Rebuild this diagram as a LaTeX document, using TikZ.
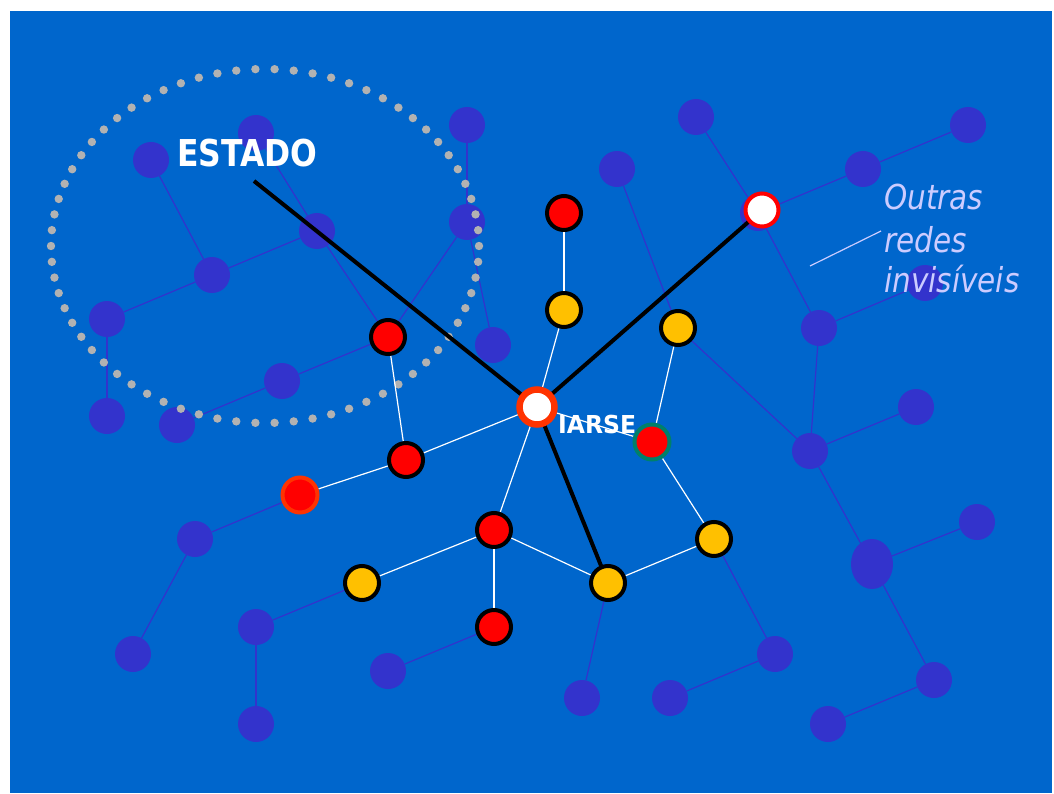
\documentclass[tikz,border=0pt]{standalone}
\usepackage{fontspec}
\setmainfont{DejaVu Sans}
\usepackage{graphicx}
\usetikzlibrary{shapes.geometric}
\definecolor{bgblue}{HTML}{0066CC}
\definecolor{nodeblue}{HTML}{3333CC}
\definecolor{nyellow}{HTML}{FFC000}
\definecolor{nred}{HTML}{FF0000}
\definecolor{orangered}{HTML}{FF3300}
\definecolor{ngreen}{HTML}{00806A}
\definecolor{dotgray}{HTML}{B2B2B2}
\definecolor{lavender}{HTML}{CCCCFF}
\pgfdeclarelayer{bgl}
\pgfdeclarelayer{bedges}
\pgfdeclarelayer{bnodes}
\pgfdeclarelayer{fedges}
\pgfsetlayers{bgl,bedges,bnodes,fedges,main}
\tikzset{
  bnode/.style={circle, fill=nodeblue, minimum size=36pt, inner sep=0pt},
  rednode/.style={circle, fill=nred, draw=black, line width=4pt, minimum size=34pt, inner sep=0pt},
  yelnode/.style={circle, fill=nyellow, draw=black, line width=4pt, minimum size=34pt, inner sep=0pt},
  bedge/.style={draw=nodeblue, line width=1.2pt},
  wedge/.style={draw=white, line width=1.2pt},
  kedge/.style={draw=black, line width=4pt},
  ringdot/.style={fill=dotgray},
}
\begin{document}
\begin{tikzpicture}[x=1pt,y=-1pt]
\begin{pgfonlayer}{bgl}
\fill[white] (0,0) rectangle (1054,794);
\fill[bgblue] (10,11) rectangle (1052,793);
\end{pgfonlayer}
\useasboundingbox (0,0) rectangle (1054,794);
% blue background nodes
\begin{pgfonlayer}{bnodes}
\node[bnode] (b1) at (151,160) {};
\node[bnode] (b2) at (256,133) {};
\node[bnode] (b3) at (467,125) {};
\node[bnode] (b4) at (317,231) {};
\node[bnode] (b5) at (467,222) {};
\node[bnode] (b6) at (212,275) {};
\node[bnode] (b7) at (107,319) {};
\node[bnode] (b8) at (493,345) {};
\node[bnode] (b9) at (282,381) {};
\node[bnode] (b10) at (107,416) {};
\node[bnode] (b11) at (177,425) {};
\node[bnode] (b12) at (195,539) {};
\node[bnode] (b13) at (133,654) {};
\node[bnode] (b14) at (256,627) {};
\node[bnode] (b15) at (256,724) {};
\node[bnode] (b16) at (388,671) {};
\node[bnode] (b17) at (582,698) {};
\node[bnode] (b18) at (670,698) {};
\node[bnode] (b19) at (775,654) {};
\node[bnode] (b20) at (934,680) {};
\node[bnode] (b21) at (828,724) {};
\node[bnode] (b22) at (810,451) {};
\node[bnode] (b23) at (916,407) {};
\node[ellipse, fill=nodeblue, minimum width=42pt, minimum height=50pt, inner sep=0pt] (b24) at (872,564) {};
\node[bnode] (b25) at (977,522) {};
\node[bnode] (b27) at (819,328) {};
\node[bnode] (b28) at (696,117) {};
\node[bnode] (b29) at (617,169) {};
\node[bnode] (b30) at (863,169) {};
\node[bnode] (b31) at (968,125) {};
\node[bnode] (b32) at (925,283) {};
\node[bnode] (bw) at (758,213) {};
\end{pgfonlayer}
% coloured nodes
\node[rednode] (R1) at (388,337) {};
\node[rednode] (R2) at (406,460) {};
\node[circle, fill=nred, draw=orangered, line width=4pt, minimum size=35pt, inner sep=0pt] (R3) at (300,495) {};
\node[rednode] (R4) at (494,530) {};
\node[rednode] (R5) at (494,627) {};
\node[rednode] (R6) at (564,213) {};
\node[yelnode] (Y1) at (362,583) {};
\node[yelnode] (Y2) at (608,583) {};
\node[yelnode] (Y3) at (714,539) {};
\node[yelnode] (Y4) at (678,328) {};
\node[yelnode] (Y5) at (564,310) {};
\node[circle, fill=nred, draw=ngreen, line width=4pt, minimum size=35pt, inner sep=0pt] (G) at (652,442) {};
\node[circle, fill=white, draw=orangered, line width=6.5pt, minimum size=35pt, inner sep=0pt] (C) at (537,407) {};
\node[circle, fill=white, draw=nred, line width=4pt, minimum size=33pt, inner sep=0pt] (W1) at (762,210) {};
% texts
\node[anchor=base west, inner sep=0pt, text=white, font=\bfseries\fontsize{37}{37}\selectfont] (estado) at (177,167) {\scalebox{0.85}[1]{ESTADO}};
\node[anchor=base west, inner sep=0pt, text=white, font=\bfseries\fontsize{24.7}{24.7}\selectfont] (iarse) at (558,433) {\scalebox{0.95}[1]{IARSE}};
\node[anchor=base west, inner sep=0pt, text=lavender, font=\itshape\fontsize{34.3}{34.3}\selectfont] (t1) at (884,210) {\scalebox{0.86}[1]{Outras}};
\node[anchor=base west, inner sep=0pt, text=lavender, font=\itshape\fontsize{34.3}{34.3}\selectfont] (t2) at (884,252) {\scalebox{0.86}[1]{redes}};
\node[anchor=base west, inner sep=0pt, text=lavender, font=\itshape\fontsize{34.3}{34.3}\selectfont] (t3) at (884,292) {\scalebox{0.86}[1]{invisíveis}};
\coordinate (estadoend) at (254,181);
\coordinate (call1) at (810,266);
\coordinate (call2) at (881,231);
% blue edges
\begin{pgfonlayer}{bedges}
\path[bedge] (b1) -- (b6);
\path[bedge] (b2) -- (b4);
\path[bedge] (b4) -- (b6);
\path[bedge] (b6) -- (b7);
\path[bedge] (b7) -- (b10);
\path[bedge] (b4) -- (R1);
\path[bedge] (b5) -- (R1);
\path[bedge] (R1) -- (b9);
\path[bedge] (b9) -- (b11);
\path[bedge] (b3) -- (b5);
\path[bedge] (b5) -- (b8);
\path[bedge] (R3) -- (b12);
\path[bedge] (b12) -- (b13);
\path[bedge] (Y1) -- (b14);
\path[bedge] (b14) -- (b15);
\path[bedge] (R5) -- (b16);
\path[bedge] (Y2) -- (b17);
\path[bedge] (Y3) -- (b19);
\path[bedge] (b18) -- (b19);
\path[bedge] (b22) -- (b23);
\path[bedge] (b22) -- (b27);
\path[bedge] (Y4) -- (b22);
\path[bedge] (b22) -- (b24);
\path[bedge] (b24) -- (b25);
\path[bedge] (b24) -- (b20);
\path[bedge] (b20) -- (b21);
\path[bedge] (b29) -- (Y4);
\path[bedge] (b28) -- (bw);
\path[bedge] (bw) -- (b30);
\path[bedge] (bw) -- (b27);
\path[bedge] (b30) -- (b31);
\path[bedge] (b27) -- (b32);
\end{pgfonlayer}
% dotted ring, white and black edges
\begin{pgfonlayer}{fedges}
\foreach \i in {0,...,69} {
  \pgfmathsetmacro{\ang}{\i*5.142857}
  \fill[ringdot] ({265+214*cos(\ang)},{246+177*sin(\ang)}) circle[radius=4.2pt];
}
\path[wedge] (R1) -- (R2);
\path[wedge] (R2) -- (C);
\path[wedge] (R3) -- (R2);
\path[wedge] (C) -- (R4);
\path[wedge] (Y1) -- (R4);
\path[wedge] (R4) -- (R5);
\path[wedge] (R4) -- (Y2);
\path[wedge] (Y2) -- (Y3);
\path[wedge] (Y3) -- (G);
\path[wedge] (G) -- (Y4);
\path[wedge] (G) -- (C);
\path[wedge] (C) -- (Y5);
\path[wedge] (Y5) -- (R6);
\path[kedge] (estadoend) -- (C.center);
\path[kedge] (C.center) -- (W1.center);
\path[kedge] (C.center) -- (Y2.center);
\draw[lavender, line width=1.2pt] (call1) -- (call2);
\end{pgfonlayer}
\end{tikzpicture}
\end{document}
